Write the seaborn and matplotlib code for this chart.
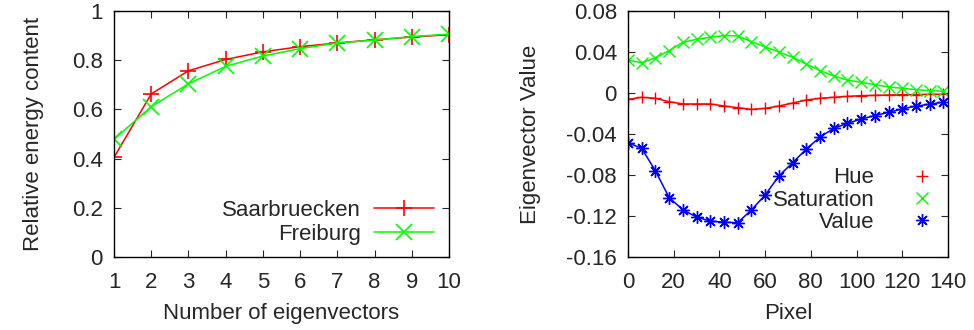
import numpy as np
import pandas as pd
import matplotlib
matplotlib.use('Agg')
import matplotlib.pyplot as plt
from matplotlib.lines import Line2D
import seaborn as sns

# left panel: energy content vs number of eigenvectors
n_eigen = [1, 2, 3, 4, 5, 6, 7, 8, 9, 10]
saarbruecken = [0.405, 0.663, 0.757, 0.803, 0.834, 0.855, 0.870, 0.883, 0.894, 0.904]
freiburg = [0.479, 0.611, 0.704, 0.775, 0.817, 0.847, 0.870, 0.882, 0.896, 0.906]

# right panel: first eigenvector components per pixel
pixel = [0, 6, 12, 18, 24, 30, 36, 42, 48, 54, 60, 66,
         72, 78, 84, 90, 96, 102, 108, 114, 120, 126, 132, 138]
hue = [-0.0062, -0.0042, -0.0052, -0.0085, -0.0107, -0.0107, -0.0107, -0.0127,
       -0.0143, -0.0160, -0.0150, -0.0127, -0.0098, -0.0068, -0.0052, -0.0042,
       -0.0033, -0.0026, -0.0023, -0.0020, -0.0016, -0.0016, -0.0013, -0.0013]
saturation = [0.0319, 0.0296, 0.0345, 0.0414, 0.0495, 0.0524, 0.0544, 0.0560,
              0.0557, 0.0500, 0.0450, 0.0400, 0.0348, 0.0283, 0.0218, 0.0166,
              0.0127, 0.0104, 0.0081, 0.0059, 0.0046, 0.0033, 0.0023, 0.0016]
value = [-0.0485, -0.0540, -0.0760, -0.1020, -0.1140, -0.1210, -0.1250, -0.1260,
         -0.1265, -0.1140, -0.0996, -0.0810, -0.0680, -0.0547, -0.0430, -0.0345,
         -0.0296, -0.0254, -0.0220, -0.0189, -0.0156, -0.0127, -0.0110, -0.0088]

RED, GREEN, BLUE = '#ff0000', '#00ff00', '#0000ff'
ASTERISK = (8, 2, 0)

sns.set_style('ticks')
plt.rcParams['font.family'] = ['Liberation Sans', 'DejaVu Sans']
plt.rcParams.update({
    'font.size': 16,
    'xtick.direction': 'in', 'ytick.direction': 'in',
    'xtick.top': True, 'ytick.right': True,
    'xtick.major.size': 5, 'ytick.major.size': 5,
    'xtick.major.width': 0.8, 'ytick.major.width': 0.8,
    'xtick.major.pad': 11, 'ytick.major.pad': 8,
    'axes.linewidth': 1.0, 'axes.edgecolor': 'black',
})

fig = plt.figure(figsize=(9.74, 3.30), dpi=100)
ax1 = fig.add_axes([114 / 974, 1 - 257 / 330, 335 / 974, 246 / 330])
ax2 = fig.add_axes([628 / 974, 1 - 257 / 330, 320 / 974, 246 / 330])

left_series = [('Saarbruecken', saarbruecken, RED, '+'),
               ('Freiburg', freiburg, GREEN, 'x')]
for name, ys, col, mk in left_series:
    sns.lineplot(x=n_eigen, y=ys, color=col, marker=mk, markersize=11,
                 markeredgewidth=1.2, markeredgecolor=col, linewidth=1.1,
                 label=name, ax=ax1)
ax1.set_xlim(1, 10)
ax1.set_ylim(0, 1)
ax1.set_xticks(n_eigen)
ax1.set_yticks([0, 0.2, 0.4, 0.6, 0.8, 1])
ax1.set_yticklabels(['0', '0.2', '0.4', '0.6', '0.8', '1'])
ax1.set_xlabel('Number of eigenvectors', labelpad=7)
ax1.set_ylabel('Relative energy content', labelpad=20)
ax1.legend(loc='lower right', markerfirst=False, frameon=False,
           handlelength=2.7, handletextpad=0.6, labelspacing=0.13,
           borderaxespad=0, borderpad=0, bbox_to_anchor=(0.955, 0.05))

right_series = [('Hue', hue, RED, '+'),
                ('Saturation', saturation, GREEN, 'x'),
                ('Value', value, BLUE, ASTERISK)]
for name, ys, col, mk in right_series:
    sns.lineplot(x=pixel, y=ys, color=col, marker=mk, markersize=9,
                 markeredgewidth=1.0, markeredgecolor=col, linewidth=1.1, ax=ax2)
ax2.set_xlim(0, 140)
ax2.set_ylim(-0.16, 0.08)
ax2.set_xticks(range(0, 141, 20))
ax2.set_yticks([-0.16, -0.12, -0.08, -0.04, 0, 0.04, 0.08])
ax2.set_yticklabels(['-0.16', '-0.12', '-0.08', '-0.04', '0', '0.04', '0.08'])
ax2.set_xlabel('Pixel', labelpad=7)
ax2.set_ylabel('Eigenvector Value', labelpad=18)
h2 = [Line2D([], [], color=c, marker=m, ls='none', markersize=9, markeredgewidth=1.0)
      for _, _, c, m in right_series]
ax2.legend(h2, [s[0] for s in right_series], loc='lower right', markerfirst=False,
           frameon=False, handlelength=2.0, handletextpad=1.13, labelspacing=0.05,
           borderaxespad=0, borderpad=0, bbox_to_anchor=(0.9875, 0.099))

fig.savefig('out.png', dpi=100)
